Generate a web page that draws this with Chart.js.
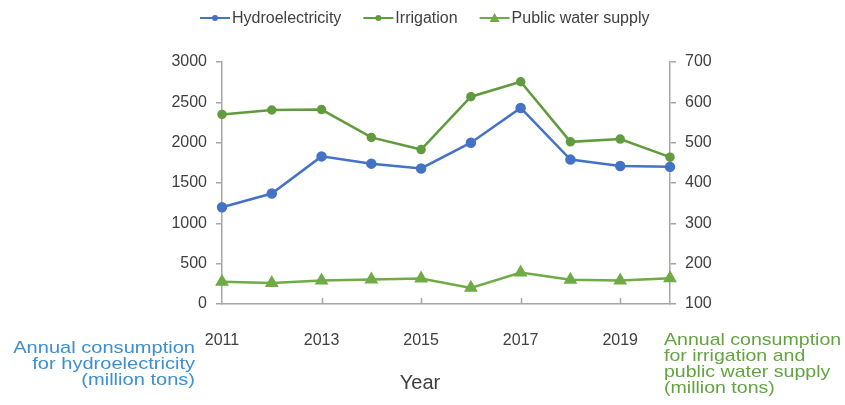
<!DOCTYPE html>
<html>
<head>
<meta charset="utf-8">
<script src="https://cdn.jsdelivr.net/npm/chart.js@4/dist/chart.umd.min.js"></script>
<style>
  html, body { margin: 0; padding: 0; background: #ffffff; }
  #wrap { width: 845px; height: 405px; position: relative; }
</style>
</head>
<body>
<div id="wrap"><canvas id="c" width="845" height="405"></canvas></div>
<script>
// Annual water use, 2011–2020
const years = ['2011', '2012', '2013', '2014', '2015', '2016', '2017', '2018', '2019', '2020'];
const hydroelectricity = [1200, 1370, 1830, 1740, 1680, 2000, 2430, 1790, 1710, 1700];   // left axis
const irrigation = [570, 581, 582, 513, 483, 614, 651, 502, 509, 464];                 // right axis
const publicWaterSupply = [155, 152, 158, 161, 163, 140, 178, 160, 158, 164];          // right axis

const leftTitle = ['Annual consumption', 'for hydroelectricity', '(million tons)'];
const rightTitle = ['Annual consumption', 'for irrigation and', 'public water supply', '(million tons)'];
const xTitle = 'Year';

const BLUE = '#4472C4';
const GREEN_DARK = '#619b3e';
const GREEN = '#6fab46';
const AXIS = '#a6a6a6';
const TEXT = '#404040';
const TICK_FONT = { family: 'Liberation Sans, Arial, sans-serif', size: 16 };

// Stretched multi-line text block (titles are set wider than the font's natural width)
function drawBlock(ctx, lines, x, y0, step, align, stretch) {
  ctx.save();
  ctx.translate(x, 0);
  ctx.scale(stretch, 1);
  ctx.textAlign = align;
  lines.forEach((t, i) => ctx.fillText(t, 0, y0 + i * step));
  ctx.restore();
}

// Legend, axis titles and the inward x tick marks
const decorations = {
  id: 'decorations',
  afterDraw(chart) {
    const ctx = chart.ctx;
    const area = chart.chartArea;
    const xs = chart.scales.x;
    ctx.save();

    // inward tick marks on the x axis at labelled years
    ctx.strokeStyle = AXIS;
    ctx.lineWidth = 1.5;
    years.forEach((y, i) => {
      if (i % 2 !== 0 || i === 0) return;
      const px = Math.round(xs.getPixelForValue(i)) + 0.5;
      ctx.beginPath();
      ctx.moveTo(px, area.bottom);
      ctx.lineTo(px, area.bottom - 6);
      ctx.stroke();
    });

    // legend: line with marker, then label
    ctx.font = '16px Liberation Sans, Arial, sans-serif';
    ctx.textBaseline = 'middle';
    let lx = 200;
    const ly = 18;
    chart.data.datasets.forEach(ds => {
      ctx.strokeStyle = ds.borderColor;
      ctx.fillStyle = ds.borderColor;
      ctx.lineWidth = 2;
      ctx.beginPath();
      ctx.moveTo(lx, ly);
      ctx.lineTo(lx + 30, ly);
      ctx.stroke();
      const cx = lx + 15;
      if (ds.pointStyle === 'triangle') {
        ctx.beginPath();
        ctx.moveTo(cx, ly - 5);
        ctx.lineTo(cx + 5, ly + 4);
        ctx.lineTo(cx - 5, ly + 4);
        ctx.closePath();
        ctx.fill();
      } else {
        ctx.beginPath();
        ctx.arc(cx, ly, 3, 0, Math.PI * 2);
        ctx.fill();
      }
      ctx.fillStyle = TEXT;
      ctx.textAlign = 'left';
      ctx.fillText(ds.label, lx + 32, ly + 1);
      lx += 32 + ctx.measureText(ds.label).width + 22;
    });

    // left axis title
    ctx.font = '17px Liberation Sans, Arial, sans-serif';
    ctx.fillStyle = '#3d8fd1';
    drawBlock(ctx, leftTitle, 195, 348, 16, 'right', 1.18);

    // right axis title
    ctx.fillStyle = '#63a442';
    drawBlock(ctx, rightTitle, 664, 340, 16, 'left', 1.15);

    // x axis title
    ctx.font = '20px Liberation Sans, Arial, sans-serif';
    ctx.fillStyle = TEXT;
    ctx.textAlign = 'center';
    ctx.fillText(xTitle, 420, 383);

    ctx.restore();
  }
};

new Chart(document.getElementById('c'), {
  type: 'line',
  data: {
    labels: years,
    datasets: [
      {
        label: 'Hydroelectricity',
        data: hydroelectricity,
        yAxisID: 'y',
        borderColor: BLUE,
        backgroundColor: BLUE,
        borderWidth: 2.5,
        pointRadius: 4,
        pointStyle: 'circle',
        clip: false
      },
      {
        label: 'Irrigation',
        data: irrigation,
        yAxisID: 'y1',
        borderColor: GREEN_DARK,
        backgroundColor: GREEN_DARK,
        borderWidth: 2.5,
        pointRadius: 3.5,
        pointStyle: 'circle',
        clip: false
      },
      {
        label: 'Public water supply',
        data: publicWaterSupply,
        yAxisID: 'y1',
        borderColor: GREEN,
        backgroundColor: GREEN,
        borderWidth: 2.5,
        pointRadius: 5.5,
        pointStyle: 'triangle',
        clip: false
      }
    ]
  },
  options: {
    responsive: false,
    animation: false,
    devicePixelRatio: 1,
    layout: { padding: { top: 62, left: 0, right: 0, bottom: 0 } },
    plugins: { legend: { display: false }, tooltip: { enabled: false } },
    elements: { line: { tension: 0 } },
    scales: {
      x: {
        type: 'category',
        offset: false,
        grid: { display: false },
        border: { display: true, color: AXIS, width: 1.5 },
        ticks: {
          autoSkip: false,
          maxRotation: 0,
          padding: 19,
          color: TEXT,
          font: TICK_FONT,
          callback: (v, i) => (i % 2 === 0 ? years[i] : '')
        },
        afterFit: s => { s.height = 101; }
      },
      y: {
        position: 'left',
        min: 0,
        max: 3000,
        ticks: { stepSize: 500, padding: 9, color: TEXT, font: TICK_FONT, callback: v => String(v) },
        grid: { drawOnChartArea: false, tickLength: 6, color: AXIS, lineWidth: 1.5 },
        border: { display: true, color: AXIS, width: 1.5 },
        afterFit: s => { s.width = 222; }
      },
      y1: {
        position: 'right',
        min: 100,
        max: 700,
        ticks: { stepSize: 100, padding: 9, color: TEXT, font: TICK_FONT, callback: v => String(v) },
        grid: { drawOnChartArea: false, tickLength: 6, color: AXIS, lineWidth: 1.5 },
        border: { display: true, color: AXIS, width: 1.5 },
        afterFit: s => { s.width = 175; }
      }
    }
  },
  plugins: [decorations]
});
</script>
</body>
</html>
